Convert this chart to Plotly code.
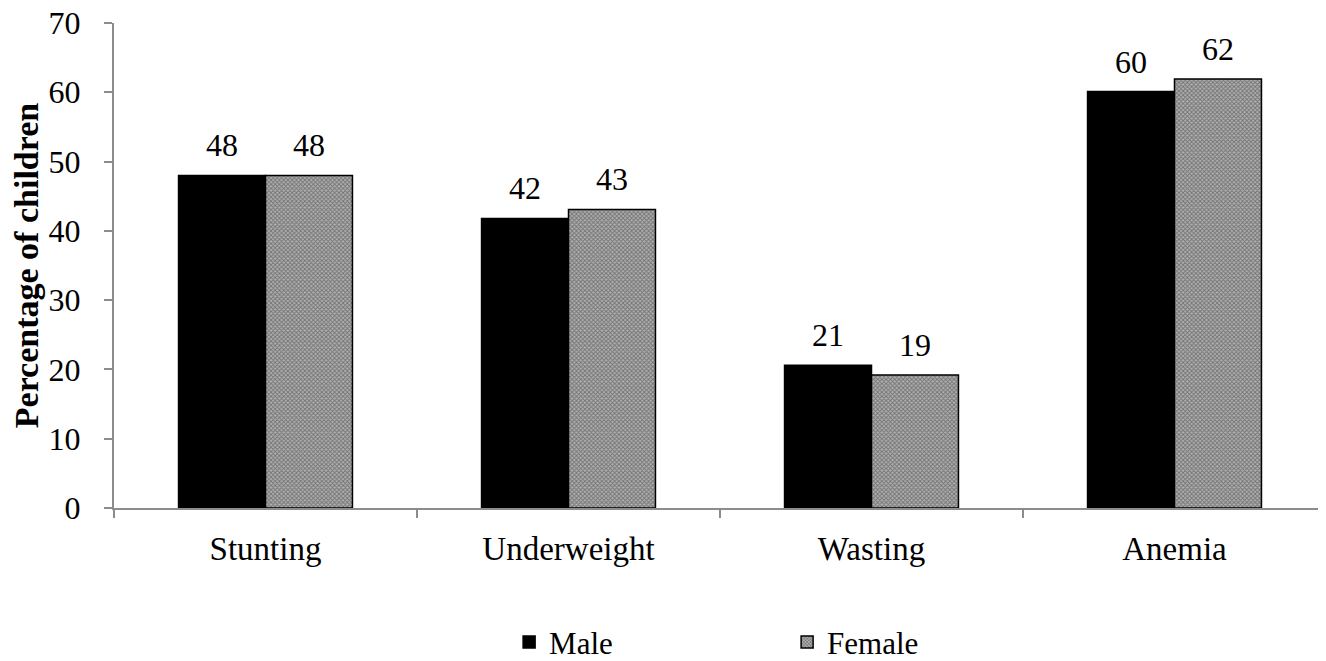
import plotly.graph_objects as go

categories = ["Stunting", "Underweight", "Wasting", "Anemia"]
male = [48.0, 41.8, 20.6, 60.1]
female = [48.0, 43.1, 19.2, 61.9]
y_ticks = [0, 10, 20, 30, 40, 50, 60, 70]

FONT = "Liberation Serif, Times New Roman, serif"

fig = go.Figure()
fig.add_trace(go.Bar(
    name="Male", x=categories, y=male, offsetgroup="m", alignmentgroup="a",
    marker=dict(color="black", line=dict(color="black", width=1.5)),
    hoverinfo="x+y",
))
fig.add_trace(go.Bar(
    name="Female", x=categories, y=female, offsetgroup="f", alignmentgroup="a",
    marker=dict(color="#9a9a9a", line=dict(color="black", width=1.5),
                pattern=dict(shape="x", fgcolor="#333333", bgcolor="#b0b0b0",
                             size=3, solidity=0.5)),
    hoverinfo="x+y",
))
# data labels placed above the bars (grouped like the bars)
for vals, grp in ((male, "m"), (female, "f")):
    fig.add_trace(go.Scatter(
        x=categories, y=vals, mode="markers+text",
        offsetgroup=grp, alignmentgroup="a",
        text=[f"{v:.0f}" for v in vals], textposition="top center",
        textfont=dict(family=FONT, size=32, color="black"),
        marker=dict(size=16, opacity=0),
        showlegend=False, hoverinfo="skip", cliponaxis=False,
    ))

fig.update_layout(
    width=1318, height=653,
    margin=dict(l=106, r=0, t=15, b=153, autoexpand=False),
    paper_bgcolor="white", plot_bgcolor="white",
    barmode="group", bargap=0.426, bargroupgap=0,
    scattermode="group", scattergap=0.426,
    font=dict(family=FONT, size=31, color="black"),
    showlegend=True,
    legend=dict(orientation="h", x=0.326, xanchor="left",
                y=-0.277, yanchor="middle",
                entrywidth=233, entrywidthmode="pixels", itemwidth=30,
                font=dict(family=FONT, size=31, color="black"),
                bgcolor="rgba(0,0,0,0)"),
)
fig.update_xaxes(
    automargin=False,
    showline=True, linecolor="#8c8c8c", linewidth=2,
    ticks="outside", tickson="boundaries", ticklen=8, tickcolor="#8c8c8c", tickwidth=2,
    tickfont=dict(family=FONT, size=33, color="black"),
    ticklabelstandoff=10, ticklabeloverflow="allow",
    showgrid=False, zeroline=False,
)
fig.update_yaxes(
    automargin=False,
    range=[0, 70], tickvals=y_ticks,
    showline=True, linecolor="#8c8c8c", linewidth=2,
    ticks="outside", ticklen=8, tickcolor="#8c8c8c", tickwidth=2,
    tickfont=dict(family=FONT, size=32, color="black"),
    ticklabelstandoff=17, ticklabeloverflow="allow",
    showgrid=False, zeroline=False,
    title=dict(text="<b>Percentage of children</b>", standoff=7,
               font=dict(family=FONT, size=34, color="black")),
)

fig.write_html("out.html")
